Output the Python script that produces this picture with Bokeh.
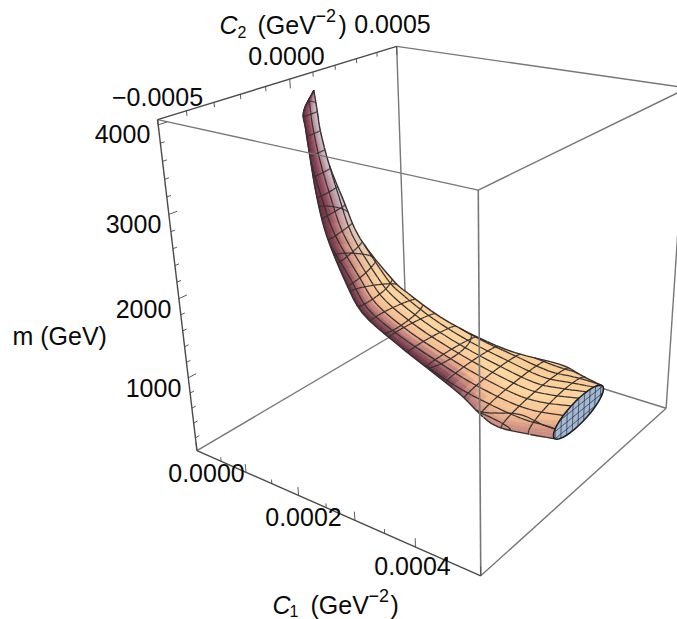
import numpy as np
from bokeh.plotting import figure
from bokeh.embed import file_html
from bokeh.resources import INLINE
from bokeh.core.properties import value

# ---- axes ----
C1_RANGE = (0.0, 0.0005)
C2_RANGE = (-0.0005, 0.0005)
M_RANGE = (25.0, 4055.0)
C1_MINOR = [0.00005 * i for i in range(0, 11)]
C1_MAJOR = [0.0, 0.0002, 0.0004]
C2_MINOR = [-0.0005 + 0.0001 * i for i in range(0, 11)]
C2_MAJOR = [-0.0005, 0.0, 0.0005]
M_MINOR = [200 * i for i in range(1, 21)]
M_MAJOR = [1000, 2000, 3000, 4000]
C1_LABELS = ["0.0000", "0.0002", "0.0004"]
C2_LABELS = ["\u22120.0005", "0.0000", "0.0005"]
M_LABELS = ["1000", "2000", "3000", "4000"]

# ---- surface stations (cross sections at constant C1) ----
C1_ST = [3.3e-05, 3.64e-05, 3.9e-05, 4.86e-05, 6.41e-05, 8.61e-05, 0.0001314, 0.0001611,
         0.0002184, 0.0002823, 0.0003424, 0.0004046, 0.0004448, 0.0004883]
C2_LO = [2.7e-05, -2.91e-05, -3.11e-05, -3.97e-05, -5.73e-05, -7.34e-05, -0.0001038, -0.0001051,
         -0.0001099, -0.0001218, -0.000134, -0.0001728, -0.0001507, -0.0001285]
C2_HI = [2.7e-05, 2.95e-05, 3.16e-05, 4.05e-05, 5.91e-05, 7.63e-05, 0.0001096, 0.0001103,
         0.0001155, 0.0001286, 0.0001421, 0.0001868, 0.0001605, 0.0001363]
M_LO = [3935, 3738, 3540, 3174, 2787, 2344, 1880, 1545, 1320, 1146, 985, 870, 830, 860]
M_HI = [3935, 3670, 3441, 3024, 2583, 2095, 1600, 1470, 1270, 1115, 1030, 945, 950, 930]
M_THICK = [0, 30, 35, 40, 45, 50, 45, 40, 35, 40, 50, 70, 110, 175]

# ---- iso-line levels of the mesh ----
C1_MESH = [0.000035 * i for i in range(1, 15)]
C2_MESH = [-0.00024 + 0.00004 * i for i in range(0, 13)]
M_MESH = [230 * i for i in range(1, 18)]
CAP_C2_MESH = [-0.00012 + 0.00003 * i for i in range(0, 9)]
CAP_M_MESH = [800, 890, 980]

# ---- camera, fitted to the eight corners of the box ----
CORNERS = [((0, 0, 1), (157, 120)), ((0, 1, 1), (396, 45)), ((1, 0, 1), (478, 188)), ((1, 1, 1), (687, 89)),
           ((0, 0, 0), (197, 450)), ((0, 1, 0), (405.5, 327)), ((1, 0, 0), (479.5, 576)), ((1, 1, 0), (666, 407))]
A = []
for (X, Y, Z), (x, y) in CORNERS:
    A.append([X, Y, Z, 1, 0, 0, 0, 0, -x * X, -x * Y, -x * Z, -x])
    A.append([0, 0, 0, 0, X, Y, Z, 1, -y * X, -y * Y, -y * Z, -y])
P = np.linalg.svd(np.array(A, float))[2][-1].reshape(3, 4)
cam = np.linalg.svd(P)[2][-1]
cam = cam[:3] / cam[3]


def unit(c1, c2, m):
    return np.stack([(np.asarray(c1, float) - C1_RANGE[0]) / (C1_RANGE[1] - C1_RANGE[0]),
                     (np.asarray(c2, float) - C2_RANGE[0]) / (C2_RANGE[1] - C2_RANGE[0]),
                     (np.asarray(m, float) - M_RANGE[0]) / (M_RANGE[1] - M_RANGE[0])], -1)


def proj_u(U):
    h = U @ P[:, :3].T + P[:, 3]
    return h[..., 0] / h[..., 2], h[..., 1] / h[..., 2]


def proj(c1, c2, m):
    return proj_u(unit(c1, c2, m))


p = figure(width=677, height=619, x_range=(0, 677), y_range=(619, 0), output_backend="svg",
           toolbar_location=None, min_border=0)
p.axis.visible = False
p.grid.visible = False
p.outline_line_color = None
p.background_fill_color = "white"


def edge(a, b, color, width=1.4):
    u = np.array([a, b], float)
    x, y = proj_u(u)
    p.line(x, y, line_color=color, line_width=width)


BOX_GREY = "#777777"
AX_DARK = "#4a4a4a"
# back edges
edge((0, 1, 1), (0, 1, 0), BOX_GREY)
edge((0, 0, 0), (0, 1, 0), BOX_GREY)
edge((0, 1, 0), (1, 1, 0), BOX_GREY)
edge((0, 1, 1), (1, 1, 1), BOX_GREY)


# ---- surface ----
def smooth(vals, n):
    v = np.asarray(vals, float)
    q = np.concatenate([[2 * v[0] - v[1]], v, [2 * v[-1] - v[-2]]])
    out = []
    for i in range(len(v) - 1):
        for t in np.linspace(0, 1, n, endpoint=False):
            a, b, c, d = q[i], q[i + 1], q[i + 2], q[i + 3]
            out.append(0.5 * ((2 * b) + (c - a) * t + (2 * a - 5 * b + 4 * c - d) * t * t + (3 * b - a - 3 * c + d) * t ** 3))
    out.append(v[-1])
    return np.array(out)


NS, NT = 4, 36
c1 = smooth(C1_ST, NS)
lo2, hi2, lom, him = smooth(C2_LO, NS), smooth(C2_HI, NS), smooth(M_LO, NS), smooth(M_HI, NS)
th = np.maximum(smooth(M_THICK, NS), 0)
theta = np.linspace(0, 2 * np.pi, NT + 1)
cc2, cm = (lo2 + hi2) / 2, (lom + him) / 2
d2, dm = (hi2 - lo2) / 2, (him - lom) / 2
C1G = np.repeat(c1[:, None], NT + 1, 1)
C2G = cc2[:, None] + d2[:, None] * np.cos(theta)
MG = cm[:, None] + dm[:, None] * np.cos(theta) + th[:, None] * np.sin(theta)
U = unit(C1G, C2G, MG)
UC = unit(c1, cc2, cm)
SX, SY = proj_u(U)

# colour ramps across the band: q = -1 upper/right edge, q = +1 lower/left edge
RAMP_Q_BOT = [-1.0, -0.3, 0.3, 0.6, 1.0]
RAMP_BOT = np.array([[250, 205, 150], [253, 214, 160], [244, 188, 146], [196, 130, 124], [95, 40, 60]], float)
RAMP_Q_TOP = [-1.0, -0.5, 0.0, 0.5, 1.0]
RAMP_TOP = np.array([[208, 203, 218], [198, 172, 182], [178, 122, 134], [135, 65, 85], [100, 45, 60]], float)


def shade(q, m, c):
    w = np.clip((m - 1700) / 900, 0, 1)
    q2 = q - 0.45 * np.clip((c - 0.00030) / 0.00008, 0, 1)
    a = [np.interp(q2, RAMP_Q_BOT, RAMP_BOT[:, k]) for k in range(3)]
    b = [np.interp(q, RAMP_Q_TOP, RAMP_TOP[:, k]) for k in range(3)]
    return tuple(int(round((1 - w) * x + w * y)) for x, y in zip(a, b))


front = np.zeros((len(c1) - 1, NT), bool)
faces = []
for i in range(len(c1) - 1):
    for j in range(NT):
        a, b, c, d = U[i, j], U[i + 1, j], U[i + 1, j + 1], U[i, j + 1]
        n = np.cross(c - a, d - b)
        ln = np.linalg.norm(n)
        if ln < 1e-12:
            continue
        n = n / ln
        ctr = (a + b + c + d) / 4
        if np.dot(n, ctr - (UC[i] + UC[i + 1]) / 2) < 0:
            n = -n
        if np.dot(n, cam - ctr) <= 0:
            continue
        front[i, j] = True
        q = -np.cos((theta[j] + theta[j + 1]) / 2)
        faces.append((np.linalg.norm(cam - ctr), i, j, shade(q, (MG[i, j] + MG[i + 1, j + 1]) / 2, c1[i])))
faces.sort(key=lambda f: -f[0])
fx, fy, fc = [], [], []
for _, i, j, col in faces:
    fx.append([SX[i, j], SX[i + 1, j], SX[i + 1, j + 1], SX[i, j + 1]])
    fy.append([SY[i, j], SY[i + 1, j], SY[i + 1, j + 1], SY[i, j + 1]])
    fc.append("#%02x%02x%02x" % col)
p.patches(fx, fy, fill_color=fc, line_color=fc, line_width=0.6)


def iso(F, levels, cells, GX, GY):
    xs0, ys0, xs1, ys1 = [], [], [], []
    for i, j in cells:
        for tri in (((i, j), (i + 1, j), (i + 1, j + 1)), ((i, j), (i + 1, j + 1), (i, j + 1))):
            vals = [F[t] for t in tri]
            mn, mx = min(vals), max(vals)
            for L in levels:
                if mn < L <= mx:
                    pts = []
                    for k in range(3):
                        f0, f1 = vals[k], vals[(k + 1) % 3]
                        if (f0 < L) != (f1 < L):
                            r = (L - f0) / (f1 - f0)
                            t0, t1 = tri[k], tri[(k + 1) % 3]
                            pts.append((GX[t0] + r * (GX[t1] - GX[t0]), GY[t0] + r * (GY[t1] - GY[t0])))
                    if len(pts) == 2:
                        xs0.append(pts[0][0]); ys0.append(pts[0][1])
                        xs1.append(pts[1][0]); ys1.append(pts[1][1])
    return xs0, ys0, xs1, ys1


MESH_COL = "#352f2f"
cells = [(i, j) for i in range(len(c1) - 1) for j in range(NT) if front[i, j]]
for F, lev in ((C1G, C1_MESH), (C2G, C2_MESH), (MG, M_MESH)):
    s = iso(F, lev, cells, SX, SY)
    p.segment(s[0], s[1], s[2], s[3], line_color=MESH_COL, line_width=1.25)

# dark silhouette of the tube
sx0, sy0, sx1, sy1 = [], [], [], []
for i in range(len(c1) - 1):
    for j in range(NT):
        if front[i, j] != front[i, (j + 1) % NT]:
            sx0.append(SX[i, j + 1]); sy0.append(SY[i, j + 1])
            sx1.append(SX[i + 1, j + 1]); sy1.append(SY[i + 1, j + 1])
p.segment(sx0, sy0, sx1, sy1, line_color=MESH_COL, line_width=1.4)

# ---- cap at the last station (seen end-on) ----
k = len(c1) - 1
nr = 12
rr = np.linspace(0, 1, nr + 1)
capC2 = cc2[k] + np.outer(rr, d2[k] * np.cos(theta))
capM = cm[k] + np.outer(rr, dm[k] * np.cos(theta) + th[k] * np.sin(theta))
capC1 = np.full_like(capC2, c1[k])
CX, CY = proj(capC1, capC2, capM)
cap_cells = [(i, j) for i in range(nr) for j in range(NT)]
p.patch(CX[-1], CY[-1], fill_color="#a3b8d2", line_color="#1f1f1f", line_width=1.6)
for F, lev in ((capC2, CAP_C2_MESH), (capM, CAP_M_MESH)):
    s = iso(F, lev, cap_cells, CX, CY)
    p.segment(s[0], s[1], s[2], s[3], line_color="#2c3244", line_width=0.8)

# ---- front edges and axes ----
edge((0, 0, 1), (1, 0, 1), BOX_GREY)
edge((1, 0, 1), (1, 1, 1), BOX_GREY)
edge((1, 0, 1), (1, 0, 0), BOX_GREY, 1.6)
edge((1, 1, 1), (1, 1, 0), BOX_GREY)
edge((1, 0, 0), (1, 1, 0), BOX_GREY)
edge((0, 0, 0), (1, 0, 0), AX_DARK)
edge((0, 0, 1), (0, 1, 1), AX_DARK)
edge((0, 0, 1), (0, 0, 0), AX_DARK)


def ticks(xa, ya, xb, yb, w=0.9):
    p.segment(xa, ya, xb, yb, line_color=AX_DARK, line_width=w)


for v in C1_MINOR:
    ln = 110 if any(abs(v - q) < 1e-9 for q in C1_MAJOR + [0.0001, 0.0003, 0.0005]) else 55
    xa, ya = proj(v, C2_RANGE[0], M_RANGE[0]); xb, yb = proj(v, C2_RANGE[0], M_RANGE[0] + ln)
    ticks([xa], [ya], [xb], [yb])
for v in C2_MINOR:
    ln = 110 if any(abs(v - q) < 1e-9 for q in C2_MAJOR) else 55
    xa, ya = proj(C1_RANGE[0], v, M_RANGE[1]); xb, yb = proj(C1_RANGE[0], v, M_RANGE[1] - ln)
    ticks([xa], [ya], [xb], [yb])
for v in M_MINOR:
    ln = 0.00003 if v in M_MAJOR else 0.000015
    xa, ya = proj(C1_RANGE[0], C2_RANGE[0], v); xb, yb = proj(C1_RANGE[0], C2_RANGE[0] + ln, v)
    ticks([xa], [ya], [xb], [yb])

# ---- labels ----
FONT = value("Liberation Sans")


def label(xs, ys, txt, size=25, align="center", base="middle", style="normal"):
    p.text(xs, ys, text=txt, text_font=FONT, text_font_size=f"{size}px", text_align=align,
           text_baseline=base, text_color="#0a0a0a", text_font_style=style)


label([206, 303, 412], [472, 516, 565], C1_LABELS)
label([157, 286, 392], [96, 55, 23], C2_LABELS)
label([153, 143, 133, 122], [387, 308, 223, 133], M_LABELS)
label([12], [335], ["m (GeV)"], align="left")
# C2 (GeV^-2)
label([219], [24], ["C"], align="left", style="italic")
label([237], [31], ["2"], size=16, align="left")
label([257], [24], ["(GeV"], align="left")
label([315], [15], ["\u22122"], size=18, align="left")
label([338], [24], [")"], align="left")
# C1 (GeV^-2)
label([272], [604], ["C"], align="left", style="italic")
label([289], [610], ["1"], size=16, align="left")
label([310], [604], ["(GeV"], align="left")
label([368], [595], ["\u22122"], size=18, align="left")
label([390], [604], [")"], align="left")

open("out.html", "w").write(file_html(p, INLINE))
